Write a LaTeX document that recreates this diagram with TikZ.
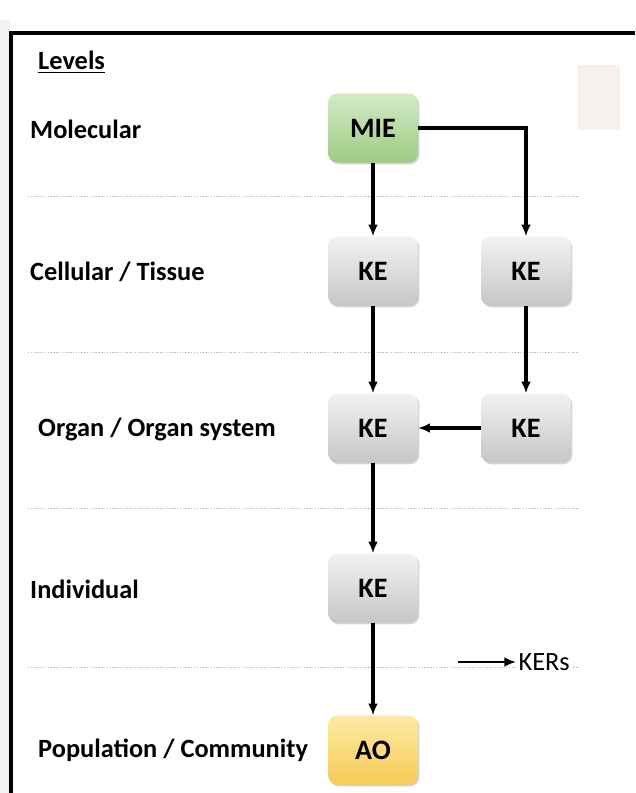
\documentclass[tikz,border=0pt]{standalone}
\usepackage{fontspec}
\setmainfont{Carlito}
\usepackage{xcolor}
\usetikzlibrary{arrows.meta,positioning,shadows}

\definecolor{mieTop}{HTML}{D3EAC6}
\definecolor{mieBot}{HTML}{9CCB82}
\definecolor{keTop}{HTML}{F2F2F2}
\definecolor{keBot}{HTML}{C6C6C6}
\definecolor{aoTop}{HTML}{FFE9A3}
\definecolor{aoBot}{HTML}{F5CC55}
\definecolor{stripGray}{HTML}{F4F1EE}

\begin{document}
\begin{tikzpicture}[x=0.03cm,y=-0.03cm, event/.style={rounded corners=8pt,align=center,minimum width=2.7cm,minimum height=2.07cm,font=\fontsize{24}{28}\selectfont\bfseries,drop shadow={opacity=0.35,shadow xshift=1.2pt,shadow yshift=-1.5pt}}, mie/.style={event,top color=mieTop,bottom color=mieBot}, ke/.style={event,top color=keTop,bottom color=keBot}, ao/.style={event,top color=aoTop,bottom color=aoBot}, level/.style={anchor=west,font=\fontsize{22.5}{26}\selectfont\bfseries,inner sep=0pt}, arrow/.style={-{Latex[length=10pt,width=8.5pt]},line width=3pt}, sep/.style={gray!50,dash pattern=on 1.2pt off 1.2pt,line width=0.7pt}]
\useasboundingbox (0,0) rectangle (635,793);
\fill[stripGray] (0,20) rectangle (10,793);
\fill[stripGray] (578,65) rectangle (620,130);
\draw[line width=2.6pt] (11,793) -- (11,33) -- (635,33);
% level separators
\foreach \y in {196,352,508,667} \draw[sep] (28,\y) -- (578,\y);
% level names
\node[level] (levels) at (38,62) {\underline{Levels}};
\node[level] (molecular) at (30,129) {Molecular};
\node[level] (cellular) at (30,272) {Cellular / Tissue};
\node[level] (organ) at (38,429) {Organ / Organ system};
\node[level] (individual) at (30,589) {Individual};
\node[level] (population) at (38,750) {Population / Community};
% events
\node[mie] (mie) at (373,128) {MIE};
\node[ke] (keA) at (373,271) {KE};
\node[ke] (keB) at (526,271) {KE};
\node[ke] (keC) at (373,428) {KE};
\node[ke] (keD) at (526,428) {KE};
\node[ke] (keE) at (373,588) {KE};
\node[ao] (ao) at (373,750) {AO};
% legend
\coordinate (kerStart) at (458,662);
\node[anchor=west,fill=white,inner sep=2pt,font=\fontsize{22.5}{26}\selectfont] (kers) at (516,662) {KERs};
\draw[arrow,line width=2pt] (kerStart) -- (kers.west);
\draw[arrow] (mie)--(keA);
\draw[arrow] (mie.east) -| (keB.north);
\draw[arrow] (keA)--(keC);
\draw[arrow] (keB)--(keD);
\draw[arrow] (keD)--(keC);
\draw[arrow] (keC)--(keE);
\draw[arrow] (keE)--(ao);
\end{tikzpicture}
\end{document}
